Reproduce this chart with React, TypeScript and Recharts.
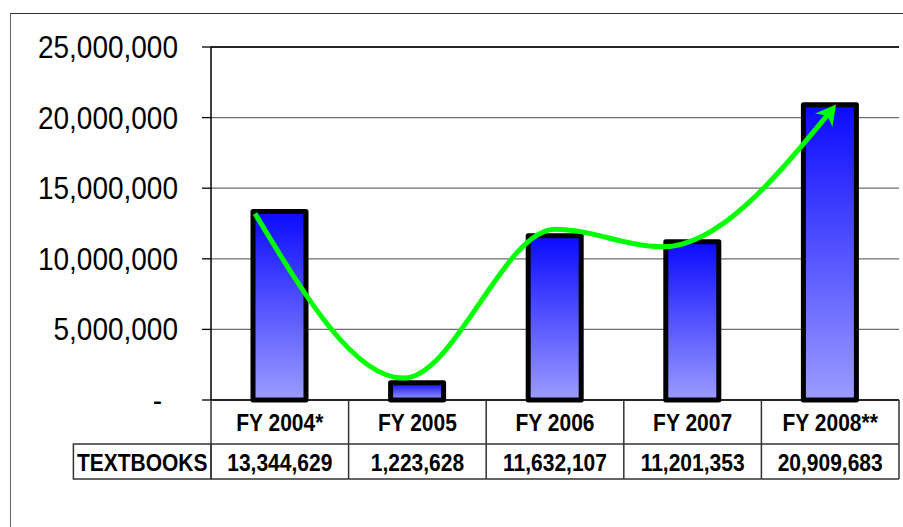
import { Bar, CartesianGrid, ComposedChart, Line, ReferenceLine, XAxis, YAxis } from 'recharts';

const years = ['FY 2004*', 'FY 2005', 'FY 2006', 'FY 2007', 'FY 2008**'];
const textbooks = [13344629, 1223628, 11632107, 11201353, 20909683];
const yTicks = [0, 5000000, 10000000, 15000000, 20000000, 25000000];
const rowLabel = 'TEXTBOOKS';

// hand-drawn trend arrow, positions in category units (0..5)
const trendPos = [0.32, 1.4, 2.5, 3.28, 4.52];
const trendValues = [13200000, 1550000, 12100000, 10850000, 20650000];

const data = years.map((year, i) => ({ year, books: textbooks[i] }));
const trend = trendPos.map((x, i) => ({ x, v: trendValues[i] }));

const FONT = '"Liberation Sans", Arial, sans-serif';
const CELL = 137.6;
const fmt = (n: number) => n.toLocaleString('en-US');

// the original text is a bit stretched vertically
function Label({ x, y, sy, children, ...rest }: any) {
  return (
    <text
      transform={`translate(${x},${y}) scale(1,${sy})`}
      dominantBaseline="central"
      fontFamily={FONT}
      fill="#000"
      {...rest}
    >
      {children}
    </text>
  );
}

function YTick({ x, y, payload }: any) {
  if (payload.value === 0) {
    return <Label x={x - 40} y={y} sy={1.1} textAnchor="end" fontSize={28}>-</Label>;
  }
  return (
    <Label x={x - 24} y={y} sy={1.1} textAnchor="end" fontSize={28}>
      {fmt(payload.value)}
    </Label>
  );
}

function TableTick({ x, y, payload, index }: any) {
  const left = x - CELL / 2;
  const right = x + CELL / 2;
  const rowTop = y + 44;
  const rowBot = y + 79;
  const line = { stroke: '#333', strokeWidth: 1.5 };
  const txt = { fontSize: 21, fontWeight: 700, textAnchor: 'middle', sy: 1.17 };
  return (
    <g>
      <line x1={left} y1={y} x2={left} y2={rowBot} {...line} />
      {index === years.length - 1 && <line x1={right} y1={y} x2={right} y2={rowBot} {...line} />}
      <line x1={left} y1={rowTop} x2={right} y2={rowTop} {...line} />
      <line x1={left} y1={rowBot} x2={right} y2={rowBot} {...line} />
      <Label x={x} y={y + 22} {...txt}>{payload.value}</Label>
      <Label x={x} y={y + 62} {...txt}>{fmt(textbooks[index])}</Label>
      {index === 0 && (
        <g>
          <rect x={left - CELL} y={rowTop} width={CELL} height={rowBot - rowTop} fill="none" {...line} />
          <Label x={left - CELL / 2} y={y + 62} {...txt}>{rowLabel}</Label>
        </g>
      )}
    </g>
  );
}

function ArrowHead(props: any) {
  const { cx, cy, index } = props;
  if (index !== trend.length - 1) return <g key={`d${index}`} />;
  return (
    <polygon
      key={`d${index}`}
      points="5,0 -15,-11 -9,0 -15,11"
      transform={`translate(${cx},${cy}) rotate(-52)`}
      fill="#00ff00"
    />
  );
}

export default function App() {
  return (
    <div style={{ position: 'absolute', left: 0, top: 0, width: 903, height: 527, background: '#fff' }}>
      <div
        style={{
          position: 'absolute',
          left: 10,
          top: 13,
          width: 893,
          height: 514,
          borderLeft: '1.5px solid #666',
          borderTop: '1.5px solid #333',
          boxSizing: 'border-box',
        }}
      />
      <ComposedChart
        width={903}
        height={527}
        data={data}
        margin={{ top: 47, right: 4, bottom: 0, left: 0 }}
        style={{ position: 'absolute', left: 0, top: 0 }}
      >
        <defs>
          <linearGradient id="barGrad" x1="0" y1="0" x2="0" y2="1">
            <stop offset="0%" stopColor="#0a0aff" />
            <stop offset="100%" stopColor="#9c9cff" />
          </linearGradient>
        </defs>
        <CartesianGrid vertical={false} stroke="#6e6e6e" strokeWidth={1.3} />
        <XAxis
          dataKey="year"
          height={127}
          tickLine={false}
          tickSize={0}
          tickMargin={0}
          axisLine={{ stroke: '#000', strokeWidth: 1.5 }}
          tick={<TableTick />}
          interval={0}
        />
        <XAxis xAxisId="trend" type="number" dataKey="x" domain={[0, 5]} hide />
        <YAxis
          width={211}
          domain={[0, 25000000]}
          ticks={yTicks}
          interval={0}
          tickSize={9}
          tickMargin={0}
          tickLine={{ stroke: '#000', strokeWidth: 1.3 }}
          axisLine={{ stroke: '#000', strokeWidth: 1.5 }}
          tick={<YTick />}
        />
        <YAxis
          yAxisId="r"
          orientation="right"
          width={0}
          domain={[0, 25000000]}
          tick={false}
          tickLine={false}
          axisLine={{ stroke: '#000', strokeWidth: 1.5 }}
        />
        <ReferenceLine y={25000000} stroke="#000" strokeWidth={1.5} />
        <Bar
          dataKey="books"
          barSize={53}
          fill="url(#barGrad)"
          stroke="#000"
          strokeWidth={5}
          strokeLinejoin="round"
          isAnimationActive={false}
        />
        <Line
          data={trend}
          xAxisId="trend"
          dataKey="v"
          type="monotone"
          stroke="#00ff00"
          strokeWidth={5}
          dot={ArrowHead}
          activeDot={false}
          isAnimationActive={false}
        />
      </ComposedChart>
    </div>
  );
}
